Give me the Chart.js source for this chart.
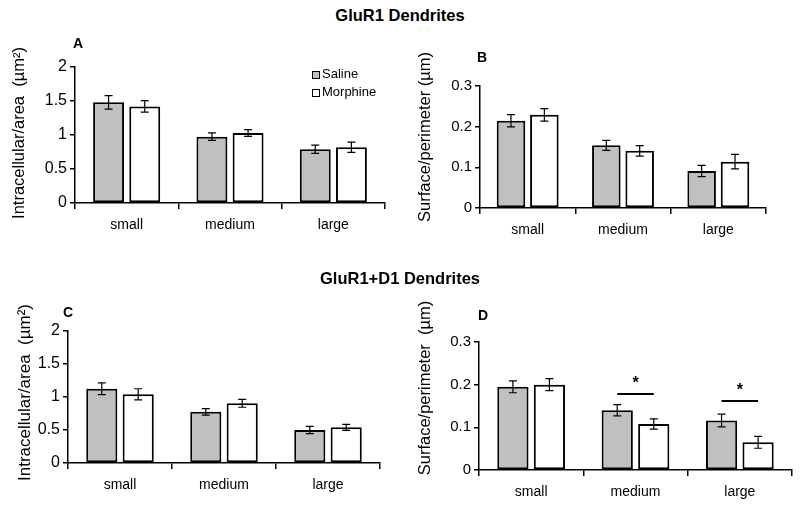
<!DOCTYPE html>
<html>
<head>
<meta charset="utf-8">
<script src="https://cdn.jsdelivr.net/npm/chart.js@4.4.0/dist/chart.umd.min.js"></script>
<style>
  body { margin: 0; width: 800px; height: 505px; background: #fff; position: relative; overflow: hidden;
         font-family: "Liberation Sans", Arial, sans-serif; color: #000; }
  canvas { position: absolute; }
  .lbl { position: absolute; white-space: nowrap; z-index: 2; }
  .head { left: 0; width: 800px; text-align: center; font-weight: bold; font-size: 16.5px; line-height: 19px; }
  .letter { font-weight: bold; font-size: 14px; line-height: 16px; }
  .leg { font-size: 13px; line-height: 15px; }
  .leg span { display: inline-block; width: 6px; height: 6px; border: 1.5px solid #000; margin-right: 2px; vertical-align: -1px; }
</style>
</head>
<body>

<div class="lbl head" style="top:6px; padding-right:4px;">GluR1 Dendrites</div>
<div class="lbl head" style="top:269px;">GluR1+D1 Dendrites</div>
<div class="lbl letter" style="left:73px; top:35px;">A</div>
<div class="lbl letter" style="left:477px; top:49px;">B</div>
<div class="lbl letter" style="left:63px; top:304px;">C</div>
<div class="lbl letter" style="left:478px; top:307px;">D</div>
<div class="lbl leg" style="left:312px; top:66px;"><span style="background:#c0c0c0"></span>Saline</div>
<div class="lbl leg" style="left:312px; top:84px;"><span style="background:#fff"></span>Morphine</div>

<canvas id="chartA" width="400" height="225" style="left:0; top:30px;"></canvas>
<canvas id="chartB" width="400" height="225" style="left:400px; top:30px;"></canvas>
<canvas id="chartC" width="400" height="220" style="left:0; top:285px;"></canvas>
<canvas id="chartD" width="400" height="220" style="left:400px; top:285px;"></canvas>

<script>
const sizes = ['small', 'medium', 'large'];
const seriesNames = ['Saline', 'Morphine'];

// A - GluR1, intracellular/area
const gluIntraSaline = [1.48, 0.975, 0.79];
const gluIntraSalineErr = [0.10, 0.055, 0.06];
const gluIntraMorph = [1.42, 1.03, 0.82];
const gluIntraMorphErr = [0.085, 0.05, 0.075];

// B - GluR1, surface/perimeter
const gluSurfSaline = [0.2145, 0.154, 0.091];
const gluSurfSalineErr = [0.015, 0.0125, 0.014];
const gluSurfMorph = [0.229, 0.1405, 0.114];
const gluSurfMorphErr = [0.0155, 0.013, 0.018];

// C - GluR1+D1, intracellular/area
const d1IntraSaline = [1.125, 0.775, 0.50];
const d1IntraSalineErr = [0.09, 0.05, 0.055];
const d1IntraMorph = [1.04, 0.905, 0.54];
const d1IntraMorphErr = [0.085, 0.06, 0.045];

// D - GluR1+D1, surface/perimeter
const d1SurfSaline = [0.195, 0.140, 0.116];
const d1SurfSalineErr = [0.014, 0.013, 0.015];
const d1SurfMorph = [0.200, 0.108, 0.065];
const d1SurfMorphErr = [0.014, 0.012, 0.014];

// axis ranges
const intraMax = 2, intraStep = 0.5;
const surfMax = 0.3, surfStep = 0.1;

// significance bars in D
const sigSizes = ['medium', 'large'];
const sigLevels = [0.178, 0.162];

Chart.defaults.font.family = '"Liberation Sans", Arial, sans-serif';
Chart.defaults.color = '#000';

const errorBars = {
  id: 'errorBars',
  afterDatasetsDraw(chart) {
    const ctx = chart.ctx, y = chart.scales.y;
    ctx.save();
    ctx.strokeStyle = '#000';
    ctx.lineWidth = 1.2;
    chart.data.datasets.forEach((ds, i) => {
      chart.getDatasetMeta(i).data.forEach((bar, j) => {
        const top = y.getPixelForValue(ds.data[j] + ds.errors[j]);
        const bot = y.getPixelForValue(ds.data[j] - ds.errors[j]);
        ctx.beginPath();
        ctx.moveTo(bar.x, top); ctx.lineTo(bar.x, bot);
        ctx.moveTo(bar.x - 4, top); ctx.lineTo(bar.x + 4, top);
        ctx.moveTo(bar.x - 4, bot); ctx.lineTo(bar.x + 4, bot);
        ctx.stroke();
      });
    });
    ctx.restore();
  }
};

// rotated y title at a fixed spot of the canvas
const yTitle = {
  id: 'yTitle',
  afterDraw(chart, args, opts) {
    const ctx = chart.ctx;
    ctx.save();
    ctx.translate(opts.x, opts.y);
    ctx.rotate(-Math.PI / 2);
    ctx.font = opts.size + 'px "Liberation Sans", Arial, sans-serif';
    ctx.fillStyle = '#000';
    ctx.textAlign = 'center';
    ctx.textBaseline = 'middle';
    ctx.fillText(opts.text, 0, 0);
    ctx.restore();
  }
};

const sigMarks = {
  id: 'sigMarks',
  afterDatasetsDraw(chart, args, opts) {
    if (!opts.levels) return;
    const ctx = chart.ctx, y = chart.scales.y;
    const m0 = chart.getDatasetMeta(0), m1 = chart.getDatasetMeta(1);
    ctx.save();
    ctx.strokeStyle = '#000';
    ctx.fillStyle = '#000';
    ctx.lineWidth = 2;
    ctx.font = 'bold 16px "Liberation Sans", Arial, sans-serif';
    ctx.textAlign = 'center';
    ctx.textBaseline = 'alphabetic';
    opts.sizes.forEach((s, k) => {
      const j = chart.data.labels.indexOf(s);
      const py = Math.round(y.getPixelForValue(opts.levels[k]));
      const x0 = m0.data[j].x, x1 = m1.data[j].x;
      ctx.beginPath();
      ctx.moveTo(x0, py); ctx.lineTo(x1, py);
      ctx.stroke();
      ctx.fillText('*', (x0 + x1) / 2, py - 6);
    });
    ctx.restore();
  }
};

function makePanel(id, saline, salineErr, morph, morphErr, yMax, yStep, lay, title, sig) {
  const ds = (label, data, errors, fill) => ({
    label: label, data: data, errors: errors,
    backgroundColor: fill, borderColor: '#000', borderWidth: 2, borderSkipped: false,
    categoryPercentage: 0.7, barPercentage: 0.855
  });
  return new Chart(document.getElementById(id), {
    type: 'bar',
    data: {
      labels: sizes,
      datasets: [
        ds(seriesNames[0], saline, salineErr, '#c0c0c0'),
        ds(seriesNames[1], morph, morphErr, '#ffffff')
      ]
    },
    options: {
      responsive: false,
      animation: false,
      devicePixelRatio: 1,
      layout: { padding: { top: lay.top, right: lay.right, left: 0, bottom: 0 } },
      plugins: {
        legend: { display: false },
        tooltip: { enabled: false },
        yTitle: title,
        sigMarks: sig || {}
      },
      scales: {
        x: {
          grid: { drawOnChartArea: false, tickLength: 6, color: '#000', lineWidth: 1.5, offset: true },
          border: { color: '#000', width: 1.5 },
          ticks: { font: { size: 14 }, padding: 8, color: '#000' },
          afterFit: s => { s.height = lay.xH; }
        },
        y: {
          min: 0, max: yMax,
          ticks: { stepSize: yStep, font: { size: lay.tickSize }, padding: 3, color: '#000',
                   callback: v => String(+v.toFixed(2)) },
          grid: { drawOnChartArea: false, tickLength: 5, color: '#000', lineWidth: 1.5 },
          border: { color: '#000', width: 1.5 },
          afterFit: s => { s.width = lay.yW; }
        }
      }
    },
    plugins: [errorBars, yTitle, sigMarks]
  });
}

makePanel('chartA', gluIntraSaline, gluIntraSalineErr, gluIntraMorph, gluIntraMorphErr,
  intraMax, intraStep, { top: 37, right: 15, xH: 52, yW: 75, tickSize: 16 },
  { text: 'Intracellular/area  (\u00b5m\u00b2)', x: 19, y: 103, size: 16.5 });

makePanel('chartB', gluSurfSaline, gluSurfSalineErr, gluSurfMorph, gluSurfMorphErr,
  surfMax, surfStep, { top: 56, right: 34, xH: 47, yW: 80, tickSize: 15 },
  { text: 'Surface/perimeter (\u00b5m)', x: 25.5, y: 107, size: 16.5 });

makePanel('chartC', d1IntraSaline, d1IntraSalineErr, d1IntraMorph, d1IntraMorphErr,
  intraMax, intraStep, { top: 46, right: 20, xH: 42, yW: 68, tickSize: 16 },
  { text: 'Intracellular/area  (\u00b5m\u00b2)', x: 25.5, y: 107.5, size: 17 });

makePanel('chartD', d1SurfSaline, d1SurfSalineErr, d1SurfMorph, d1SurfMorphErr,
  surfMax, surfStep, { top: 57, right: 8, xH: 35, yW: 79, tickSize: 15 },
  { text: 'Surface/perimeter  (\u00b5m)', x: 25.5, y: 103, size: 16.5 },
  { sizes: sigSizes, levels: sigLevels });
</script>
</body>
</html>
